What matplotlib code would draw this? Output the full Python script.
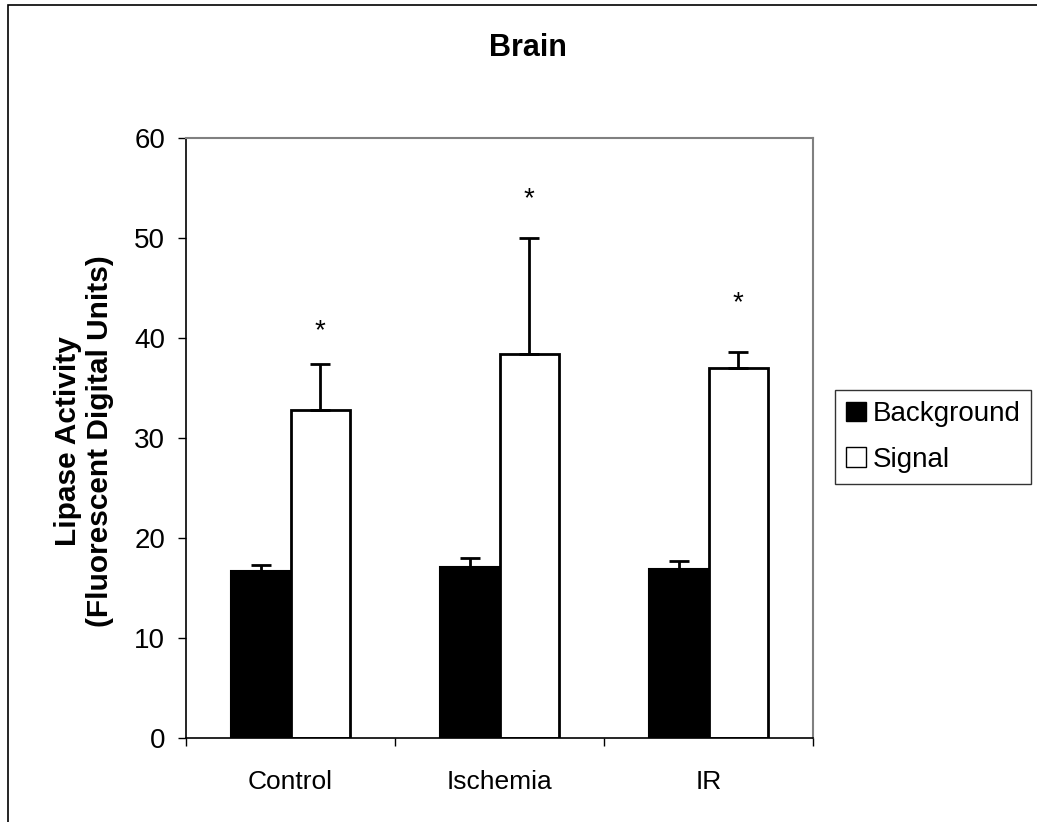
import numpy as np
import matplotlib
matplotlib.use("Agg")
import matplotlib.pyplot as plt
from matplotlib.patches import Rectangle
from matplotlib.ticker import MultipleLocator

plt.rcParams['font.family'] = ['Liberation Sans', 'DejaVu Sans']

# data
groups = ['Control', 'Ischemia', 'IR']
background = [16.7, 17.1, 16.9]
background_err = [0.6, 0.9, 0.8]
signal = [32.8, 38.4, 37.0]
signal_err = [4.6, 11.6, 1.6]
star_y = [40.7, 53.9, 43.5]

fig = plt.figure(figsize=(10.37, 8.22), dpi=100)
ax = fig.add_axes([186/1037, 1 - 738/822, 627/1037, 600/822])

x = np.arange(len(groups))
w = 1 / 3.5
ax.bar(x - w/2, background, w, color='black', edgecolor='black', linewidth=1.5,
       label='Background', zorder=2)
ax.bar(x + w/2, signal, w, color='white', edgecolor='black', linewidth=2,
       label='Signal', zorder=2)
ax.errorbar(x - w/2, background, yerr=[np.zeros(3), background_err], fmt='none',
            ecolor='black', elinewidth=2, capsize=7.5, capthick=2, zorder=3)
ax.errorbar(x + w/2, signal, yerr=[np.zeros(3), signal_err], fmt='none',
            ecolor='black', elinewidth=2, capsize=7.5, capthick=2, zorder=3)
for xi, yi in zip(x + w/2, star_y):
    ax.text(xi, yi, '*', ha='center', va='center', fontsize=20)

ax.set_xlim(-0.5, 2.5)
ax.set_ylim(0, 60)
ax.yaxis.set_major_locator(MultipleLocator(10))
ax.set_xticks(x)
ax.set_xticklabels(groups, fontsize=19)
ax.set_xticks([-0.5, 0.5, 1.5, 2.5], minor=True)
ax.tick_params(axis='x', which='major', length=0, pad=23)
ax.tick_params(axis='x', which='minor', length=6, width=1, direction='out')
ax.tick_params(axis='y', labelsize=20, length=6, width=1, direction='out', pad=9)

for s in ['top', 'right']:
    ax.spines[s].set_color('#808080')
    ax.spines[s].set_linewidth(1.5)
for s in ['left', 'bottom']:
    ax.spines[s].set_color('black')
    ax.spines[s].set_linewidth(1.2)

ax.set_ylabel('Lipase Activity\n(Fluorescent Digital Units)', fontsize=21.5,
              fontweight='bold', va='center', linespacing=1.15)
ax.yaxis.set_label_coords((84 - 186) / 627, 0.495)

fig.text(528/1037, 1 - 48/822, 'Brain', ha='center', va='center', fontsize=22,
         fontweight='bold')

leg = fig.legend(loc='upper left', bbox_to_anchor=(835/1037, 1 - 390/822),
                 fontsize=20, frameon=True, fancybox=False, edgecolor='black',
                 handlelength=0.7, handleheight=0.7, handletextpad=0.25,
                 borderpad=0.4, labelspacing=0.7, borderaxespad=0)
leg.get_frame().set_linewidth(1)
for h in leg.legend_handles:
    h.set_linewidth(1)

# outer chart border (only left and top edges fall inside the image)
fig.patches.append(Rectangle((8/1037, -0.1), 1.2, 1.1 - 4.7/822, fill=False,
                             edgecolor='black', linewidth=1.2,
                             transform=fig.transFigure, figure=fig))

fig.savefig('out.png', dpi=100)
